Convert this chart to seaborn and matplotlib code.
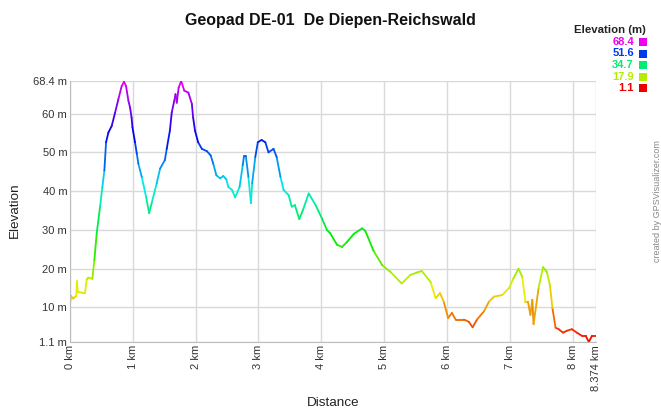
import colorsys
import matplotlib as mpl
import matplotlib.pyplot as plt
import numpy as np
import pandas as pd
import seaborn as sns

sns.set_style('white')
plt.rcParams['font.family'] = ['Liberation Sans', 'DejaVu Sans']

# ================================= #
# data
# ================================= #
title = 'Geopad DE-01  De Diepen-Reichswald'

dist_km = [0, 0.016, 0.05, 0.10, 0.11, 0.125, 0.20, 0.239, 0.266, 0.292,
           0.356, 0.388, 0.425, 0.478, 0.515, 0.547, 0.574, 0.611, 0.664, 0.717,
           0.77, 0.823, 0.86, 0.892, 0.93, 0.956, 0.98, 0.994, 1.035, 1.063,
           1.088, 1.142, 1.21, 1.26, 1.30, 1.38, 1.434, 1.51, 1.54, 1.59,
           1.62, 1.66, 1.68, 1.70, 1.73, 1.77, 1.82, 1.885, 1.94, 1.96,
           1.99, 2.04, 2.10, 2.18, 2.24, 2.28, 2.33, 2.39, 2.44, 2.49,
           2.52, 2.58, 2.63, 2.70, 2.75, 2.77, 2.80, 2.84, 2.88, 2.90,
           2.95, 2.99, 3.05, 3.11, 3.16, 3.24, 3.29, 3.35, 3.40, 3.48,
           3.53, 3.58, 3.65, 3.71, 3.80, 3.91, 4.01, 4.09, 4.14, 4.25,
           4.33, 4.41, 4.52, 4.65, 4.70, 4.83, 4.97, 5.10, 5.28, 5.42,
           5.52, 5.60, 5.74, 5.82, 5.89, 5.95, 6.02, 6.08, 6.14, 6.27,
           6.35, 6.41, 6.48, 6.59, 6.67, 6.75, 6.88, 6.99, 7.06, 7.14,
           7.20, 7.25, 7.29, 7.33, 7.36, 7.38, 7.46, 7.53, 7.59, 7.64,
           7.68, 7.73, 7.78, 7.85, 7.91, 7.99, 8.07, 8.15, 8.21, 8.26,
           8.31, 8.374]
elev_m = [10.8, 13.0, 12.3, 13.0, 16.8, 14.0, 13.8, 13.8, 17.2, 17.7,
          17.4, 22.3, 29.1, 35.9, 41.0, 45.3, 52.6, 55.1, 56.8, 60.2,
          63.7, 67.1, 68.2, 67.1, 63.3, 61.6, 59.0, 56.5, 52.6, 49.7,
          47.1, 43.7, 38.6, 34.3, 36.9, 42.0, 45.8, 48.0, 50.9, 55.6,
          60.3, 63.3, 65.0, 62.8, 66.7, 68.4, 65.9, 65.4, 62.5, 59.0,
          55.6, 52.6, 50.9, 50.3, 49.2, 47.1, 44.1, 43.3, 43.9, 43.0,
          41.1, 40.3, 38.4, 41.1, 46.7, 49.0, 49.0, 43.7, 36.9, 42.0,
          48.8, 52.6, 53.2, 52.6, 50.0, 50.9, 48.8, 43.7, 40.3, 39.0,
          36.0, 36.4, 32.8, 35.2, 39.4, 36.4, 33.0, 30.0, 29.2, 26.2,
          25.6, 26.9, 29.0, 30.4, 29.8, 24.7, 20.9, 19.2, 16.2, 18.4,
          19.0, 19.4, 16.6, 12.4, 13.7, 11.5, 7.3, 8.6, 6.9, 6.9,
          6.3, 4.9, 6.9, 9.0, 11.5, 12.8, 13.2, 15.0, 17.5, 20.0,
          17.9, 11.5, 11.5, 8.1, 12.0, 5.7, 15.0, 20.4, 19.2, 15.8,
          9.9, 4.8, 4.4, 3.5, 4.0, 4.4, 3.5, 2.7, 2.7, 1.1,
          2.7, 2.7]

x_ticks = [0, 1, 2, 3, 4, 5, 6, 7, 8, 8.374]
x_labels = ['0 km', '1 km', '2 km', '3 km', '4 km', '5 km', '6 km', '7 km',
            '8 km', '8.374 km']
y_ticks = [1.1, 10, 20, 30, 40, 50, 60, 68.4]
y_labels = ['1.1 m', '10 m', '20 m', '30 m', '40 m', '50 m', '60 m', '68.4 m']
legend_vals = [68.4, 51.6, 34.7, 17.9, 1.1]

elev_min, elev_max = 1.1, 68.4

# hue wheel from red (low) to magenta (high)
cmap = mpl.colors.ListedColormap(
    [colorsys.hsv_to_rgb(h, 1, 0.93) for h in np.linspace(0, 300 / 360, 256)])
norm = mpl.colors.Normalize(elev_min, elev_max)

# one short line per step so each step gets its own colour
rows = []
for i in range(len(dist_km) - 1):
    level = (elev_m[i] + elev_m[i + 1]) / 2
    rows.append((dist_km[i], elev_m[i], i, level))
    rows.append((dist_km[i + 1], elev_m[i + 1], i, level))
seg = pd.DataFrame(rows, columns=['km', 'm', 'seg', 'level'])

# ================================= #
# plot
# ================================= #
W, H = 661, 409
fig = plt.figure(figsize=(W / 100, H / 100), dpi=100)
ax = fig.add_axes([70 / W, 67 / H, 526 / W, 261 / H])

sns.lineplot(data=seg, x='km', y='m', hue='level', units='seg',
             estimator=None, sort=False, palette=cmap,
             hue_norm=(elev_min, elev_max), legend=False, lw=1.3, ax=ax)

ax.set_xlim(0, 8.374)
ax.set_ylim(elev_min, elev_max)
ax.set_xticks(x_ticks, x_labels, rotation=90)
ax.set_yticks(y_ticks, y_labels)
ax.tick_params(length=0, labelsize=8, labelcolor='#333333', pad=2)
ax.grid(True, color='#d9d9d9', lw=1)
ax.set_axisbelow(True)
ax.set(xlabel='', ylabel='')
for side in ['top', 'right']:
    ax.spines[side].set_visible(False)
for side in ['left', 'bottom']:
    ax.spines[side].set_color('#bdbdbd')

fig.text(0.5, 1 - 20 / H, title, ha='center', va='center',
         fontsize=11.5, weight='bold', color='#111111')
fig.text(333 / W, 1 - 403 / H, 'Distance', ha='center', va='center',
         fontsize=9.7, color='#222222')
fig.text(15 / W, 1 - 210 / H, 'Elevation', ha='center', va='center',
         rotation=90, fontsize=9.7, color='#222222')

# colour key, top right
fig.text(646 / W, 1 - 30 / H, 'Elevation (m)', ha='right', va='center',
         fontsize=8.2, weight='bold', color='#222222')
for k, v in enumerate(legend_vals):
    yc = 1 - (42 + 11.5 * k) / H
    col = cmap(norm(v))
    fig.text(634 / W, yc, f'{v:.1f}', ha='right', va='center',
             fontsize=8, weight='bold', color=col)
    fig.add_artist(mpl.patches.Rectangle((639 / W, yc - 4 / H), 8 / W, 8 / H,
                                         transform=fig.transFigure,
                                         color=col, lw=0))

fig.text(658 / W, 1 - 201 / H, 'created by GPSVisualizer.com', ha='center',
         va='center', rotation=90, fontsize=6.5, color='#888888')

fig.savefig('out.png', dpi=100)
